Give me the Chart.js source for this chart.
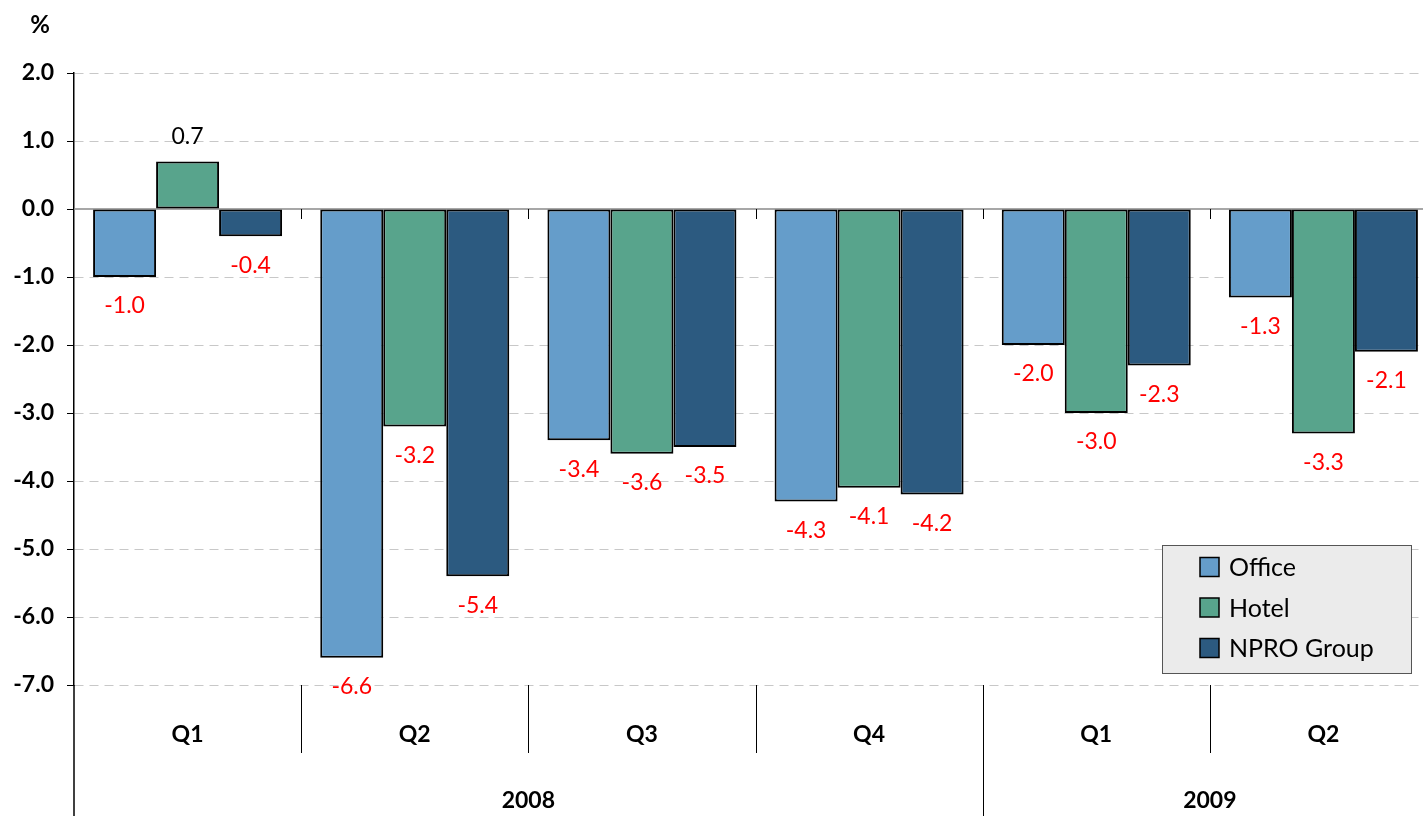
<!DOCTYPE html>
<html>
<head>
<meta charset="utf-8">
<script src="https://cdn.jsdelivr.net/npm/chart.js@4/dist/chart.umd.min.js"></script>
<style>
  html, body { margin: 0; padding: 0; background: #fff; overflow: hidden; }
  #wrap { width: 1440px; height: 816px; }
</style>
</head>
<body>
<div id="wrap"><canvas id="chart" width="1440" height="816"></canvas></div>
<script>
const quarters = ["Q1", "Q2", "Q3", "Q4", "Q1", "Q2"];
const years = [{ label: "2008", from: 0, to: 3 }, { label: "2009", from: 4, to: 5 }];
const office = [-1.0, -6.6, -3.4, -4.3, -2.0, -1.3];
const hotel = [0.7, -3.2, -3.6, -4.1, -3.0, -3.3];
const npro = [-0.4, -5.4, -3.5, -4.2, -2.3, -2.1];
const yTicks = [2, 1, 0, -1, -2, -3, -4, -5, -6, -7];

const FONT = "Lato, Carlito, 'Liberation Sans', sans-serif";

const overlay = {
  id: "overlay",
  beforeDatasetsDraw(chart) {
    const { ctx, chartArea: a, scales: { x, y } } = chart;
    const y0 = y.getPixelForValue(0);
    const band = x.getPixelForValue(1) - x.getPixelForValue(0);
    ctx.save();
    ctx.strokeStyle = "#8a8a8a";
    ctx.lineWidth = 1.5;
    ctx.beginPath();
    ctx.moveTo(a.left, y0);
    ctx.lineTo(a.right, y0);
    ctx.stroke();
    // small tick marks on the zero line at category boundaries
    ctx.strokeStyle = "#000";
    ctx.lineWidth = 1;
    for (let i = 1; i < quarters.length; i++) {
      const bx = Math.round(x.getPixelForValue(i) - band / 2) + 0.5;
      ctx.beginPath();
      ctx.moveTo(bx, y0);
      ctx.lineTo(bx, y0 + 10);
      ctx.stroke();
    }
    ctx.restore();
  },
  afterDraw(chart) {
    const { ctx, chartArea: a, scales: { x, y } } = chart;
    const band = x.getPixelForValue(1) - x.getPixelForValue(0);
    ctx.save();

    // value labels
    ctx.font = "23px " + FONT;
    ctx.textAlign = "center";
    ctx.textBaseline = "middle";
    chart.data.datasets.forEach((ds, di) => {
      chart.getDatasetMeta(di).data.forEach((bar, i) => {
        const v = ds.data[i];
        ctx.fillStyle = v < 0 ? "#ff0000" : "#000";
        const ty = v < 0 ? bar.y + 29 : bar.y - 25;
        ctx.fillText(v.toFixed(1), bar.x, ty);
      });
    });

    // y axis extension below plot
    ctx.strokeStyle = "#000";
    ctx.lineWidth = 1.5;
    ctx.beginPath();
    ctx.moveTo(a.left, a.bottom);
    ctx.lineTo(a.left, chart.height);
    ctx.stroke();

    // category separators
    ctx.lineWidth = 1;
    const yearStarts = years.map(g => g.from);
    for (let i = 1; i < quarters.length; i++) {
      const bx = Math.round(x.getPixelForValue(i) - band / 2) + 0.5;
      ctx.beginPath();
      ctx.moveTo(bx, a.bottom);
      ctx.lineTo(bx, yearStarts.includes(i) ? chart.height : a.bottom + 68);
      ctx.stroke();
    }

    // quarter labels
    ctx.fillStyle = "#000";
    ctx.font = "bold 23px " + FONT;
    quarters.forEach((q, i) => ctx.fillText(q, x.getPixelForValue(i), a.bottom + 50));

    // year labels
    years.forEach(g => {
      const cx = (x.getPixelForValue(g.from) + x.getPixelForValue(g.to)) / 2;
      ctx.fillText(g.label, cx, a.bottom + 116);
    });

    // unit label
    ctx.font = "bold 24px " + FONT;
    ctx.fillText("%", 40, 25);

    // legend
    const lx = 1162, ly = 545, lw = 249, lh = 128;
    ctx.fillStyle = "#ebebeb";
    ctx.fillRect(lx, ly, lw, lh);
    ctx.strokeStyle = "#555";
    ctx.lineWidth = 1;
    ctx.strokeRect(lx + 0.5, ly + 0.5, lw, lh);
    ctx.font = "25px " + FONT;
    ctx.textAlign = "left";
    chart.data.datasets.forEach((ds, di) => {
      const cy = ly + 22 + di * 40.5;
      ctx.fillStyle = ds.backgroundColor;
      ctx.fillRect(1200, cy - 9.5, 19, 19);
      ctx.strokeStyle = "#000";
      ctx.lineWidth = 1.5;
      ctx.strokeRect(1200, cy - 9.5, 19, 19);
      ctx.fillStyle = "#000";
      ctx.fillText(ds.label, 1229, cy + 1);
    });
    ctx.restore();
  }
};

new Chart(document.getElementById("chart"), {
  type: "bar",
  data: {
    labels: quarters,
    datasets: [
      { label: "Office", data: office, backgroundColor: "#659dca" },
      { label: "Hotel", data: hotel, backgroundColor: "#58a48c" },
      { label: "NPRO Group", data: npro, backgroundColor: "#2c5a80" }
    ]
  },
  options: {
    responsive: false,
    animation: false,
    layout: { padding: { top: 73, bottom: 131, left: 0, right: 3 } },
    datasets: {
      bar: {
        borderColor: "#000",
        borderWidth: 2,
        borderSkipped: false,
        categoryPercentage: 0.832,
        barPercentage: 1.0
      }
    },
    plugins: { legend: { display: false }, tooltip: { enabled: false } },
    scales: {
      x: { display: false },
      y: {
        min: -7,
        max: 2,
        afterBuildTicks: s => { s.ticks = yTicks.map(v => ({ value: v })); },
        afterFit: s => { s.width = 74; },
        ticks: {
          color: "#000",
          padding: 13,
          font: { family: FONT, size: 23, weight: "bold" },
          callback: v => v.toFixed(1)
        },
        grid: {
          color: c => (c.tick && c.tick.value === 0 ? "rgba(0,0,0,0)" : "#c8c8c8"),
          lineWidth: 1,
          tickColor: "#000",
          tickLength: 7
        },
        border: { color: "#000", width: 1.5, dash: [9, 6] }
      }
    }
  },
  plugins: [overlay]
});
</script>
</body>
</html>
